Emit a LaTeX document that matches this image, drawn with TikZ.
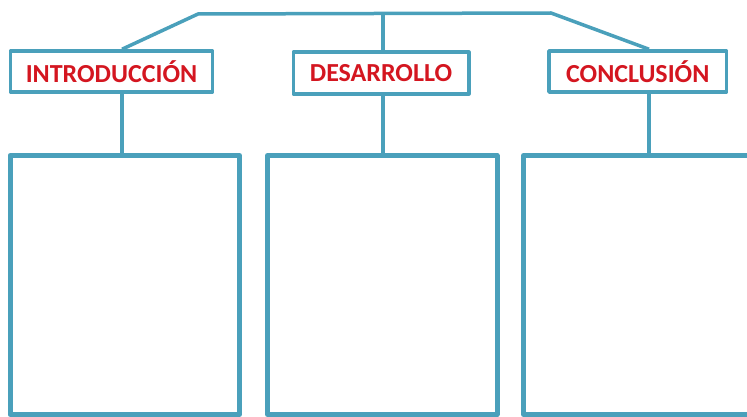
\documentclass[tikz,border=0pt]{standalone}
\usepackage{fontspec}
\setmainfont{Carlito}
\definecolor{azul}{RGB}{74,160,187}
\definecolor{rojo}{RGB}{212,22,32}
\begin{document}
\begin{tikzpicture}[x=1pt, y=-1pt, line width=3.5pt, line join=round,
    etiqueta/.style={draw=azul, fill=white, text=rojo, inner sep=0pt,
      font=\bfseries\fontsize{26}{28}\selectfont},
    caja/.style={draw=azul, line width=5pt, fill=white, inner sep=0pt,
      minimum width=229.5pt, minimum height=259pt}]
  % el marco de la hoja
  \path[use as bounding box, clip] (0,0) rectangle (747,417);
  % las columnas por donde bajan las lineas
  \coordinate (c1) at (122,0);
  \coordinate (c2) at (383,0);
  \coordinate (c3) at (649,0);
  \coordinate (izq) at (198,14);
  \coordinate (der) at (551,13);
  % los tres titulos
  \node[etiqueta, minimum width=202pt, minimum height=41pt] (intro) at (111.5,71.5) {INTRODUCCIÓN};
  \node[etiqueta, minimum width=175.5pt, minimum height=42pt] (desarrollo) at (381,73) {DESARROLLO};
  \node[etiqueta, minimum width=177.5pt, minimum height=41pt] (conclusion) at (637.75,71.5) {CONCLUSIÓN};
  % los tres cuadros vacios (el tercero se sale por la derecha)
  \node[caja] (cuadro1) at (124.75,285) {};
  \node[caja] (cuadro2) at (382.25,285) {};
  \node[caja] (cuadro3) at (638.25,285) {};
  % la llave de arriba
  \draw[azul] (intro.north -| c1) -- (izq) -- (der) -- (conclusion.north -| c3);
  \draw[azul] (izq -| c2) -- (desarrollo.north -| c2);
  % y las lineas que bajan a los cuadros
  \draw[azul] (intro.south -| c1) -- (cuadro1.north -| c1);
  \draw[azul] (desarrollo.south -| c2) -- (cuadro2.north -| c2);
  \draw[azul] (conclusion.south -| c3) -- (cuadro3.north -| c3);
\end{tikzpicture}
\end{document}
